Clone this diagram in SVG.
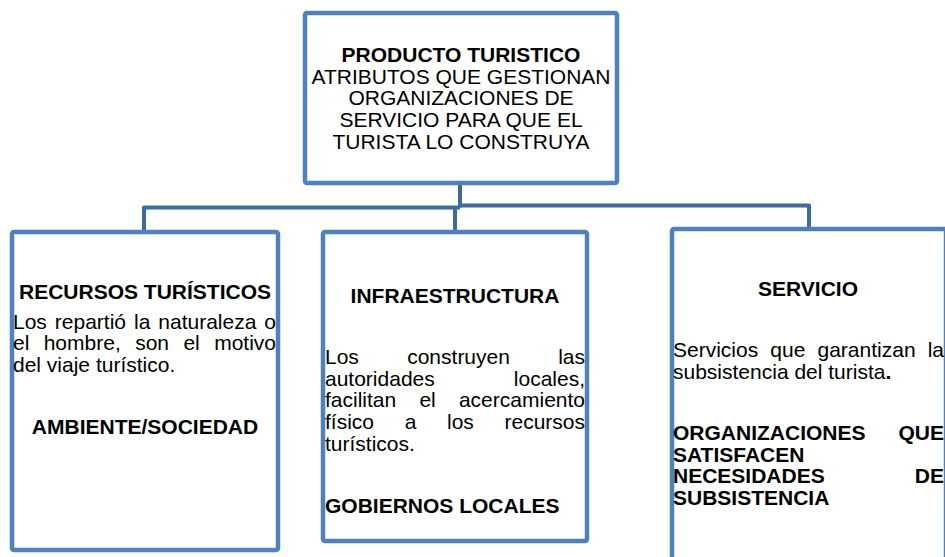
<svg xmlns="http://www.w3.org/2000/svg" width="945" height="557" viewBox="0 0 945 557">
<style>
.box{fill:#ffffff;stroke:#4F81BD;stroke-width:4.5}
.conn{fill:none;stroke:#3E6A9C;stroke-width:4;stroke-linejoin:round}
text{font-family:"Liberation Sans",Arial,sans-serif;font-size:21px;fill:#000}
.b{font-weight:bold}
.c{text-anchor:middle}
.e{text-anchor:end}
</style>
<rect width="945" height="557" fill="#ffffff"/>
<g id="connectors">
<path class="conn" d="M460,185 V207.5"/>
<path class="conn" d="M460,207.5 H144 V230"/>
<path class="conn" d="M455,207.5 V230"/>
<path class="conn" d="M460,205.5 H809 V227"/>
</g>
<g id="producto">
<rect class="box" x="305" y="13" width="312" height="170" rx="2"/>
<text class="b c" x="461" y="62">PRODUCTO TURISTICO</text>
<text class="c" x="461" y="83.7">ATRIBUTOS QUE GESTIONAN</text>
<text class="c" x="461" y="105.4">ORGANIZACIONES DE</text>
<text class="c" x="461" y="127.1">SERVICIO PARA QUE EL</text>
<text class="c" x="461" y="148.8">TURISTA LO CONSTRUYA</text>
</g>
<g id="recursos">
<rect class="box" x="12" y="232" width="266" height="318" rx="2"/>
<text class="b c" x="145" y="299">RECURSOS TURÍSTICOS</text>
<text y="328.5"><tspan x="13">Los</tspan><tspan x="54.8">repartió</tspan><tspan x="134">la</tspan><tspan x="158.3">naturaleza</tspan><tspan x="276" class="e">o</tspan></text>
<text y="350.2"><tspan x="13">el</tspan><tspan x="43.7">hombre,</tspan><tspan x="135.2">son</tspan><tspan x="183.4">el</tspan><tspan x="276" class="e">motivo</tspan></text>
<text x="13" y="371.9">del viaje turístico.</text>
<text class="b c" x="145" y="434">AMBIENTE/SOCIEDAD</text>
</g>
<g id="infraestructura">
<rect class="box" x="323" y="232" width="264" height="309" rx="2"/>
<text class="b c" x="455" y="303">INFRAESTRUCTURA</text>
<text y="364"><tspan x="325">Los</tspan><tspan x="407.2">construyen</tspan><tspan x="585" class="e">las</tspan></text>
<text y="385.7"><tspan x="325">autoridades</tspan><tspan x="585" class="e">locales,</tspan></text>
<text y="407.4"><tspan x="325">facilitan</tspan><tspan x="419.4">el</tspan><tspan x="585" class="e">acercamiento</tspan></text>
<text y="429.1"><tspan x="325">físico</tspan><tspan x="404.7">a</tspan><tspan x="447">los</tspan><tspan x="585" class="e">recursos</tspan></text>
<text x="325" y="450.8">turísticos.</text>
<text class="b" x="325" y="512.7">GOBIERNOS LOCALES</text>
</g>
<g id="servicio">
<rect class="box" x="672" y="229" width="274" height="340" rx="2"/>
<text class="b c" x="808" y="296">SERVICIO</text>
<text y="357.3"><tspan x="673">Servicios</tspan><tspan x="770.3">que</tspan><tspan x="817.5">garantizan</tspan><tspan x="944" class="e">la</tspan></text>
<text x="673" y="379">subsistencia del turista<tspan class="b">.</tspan></text>
<text class="b" y="440"><tspan x="673">ORGANIZACIONES</tspan><tspan x="944" class="e">QUE</tspan></text>
<text class="b" x="673" y="461.7">SATISFACEN</text>
<text class="b" y="483.4"><tspan x="673">NECESIDADES</tspan><tspan x="944" class="e">DE</tspan></text>
<text class="b" x="673" y="505.1">SUBSISTENCIA</text>
</g>
</svg>
